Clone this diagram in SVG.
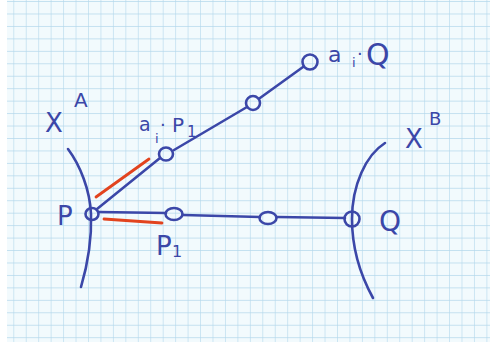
<svg xmlns="http://www.w3.org/2000/svg" width="490" height="346" viewBox="0 0 490 346">
<defs>
<pattern id="grid" patternUnits="userSpaceOnUse" x="0.85" y="1.05" width="12.45" height="12.45">
<path d="M0,0 V12.45 M0,0 H12.45" fill="none" stroke="#b3d8ec" stroke-width="1.2"/>
</pattern>
<style>
.ink{fill:none;stroke:#3b47a8;stroke-width:2.6;stroke-linecap:round;stroke-linejoin:round}
.red{fill:none;stroke:#e2431e;stroke-width:2.8;stroke-linecap:round}
.lbl{fill:#3b47a8;font-family:"DejaVu Sans","Liberation Sans",sans-serif}
</style>
</defs>
<rect x="0" y="0" width="490" height="346" fill="#ffffff"/>
<rect x="7" y="0" width="483" height="342" fill="#f2fafd"/>
<rect x="7" y="0" width="483" height="342" fill="url(#grid)"/>

<g id="connectors">
<path class="ink" d="M97,209 L160,158"/>
<path class="ink" d="M174,150 L247,107"/>
<path class="ink" d="M260,98 L303,67"/>
<path class="ink" d="M99,212 L166,213"/>
<path class="ink" d="M183,215 L260,217"/>
<path class="ink" d="M277,217 L345,218"/>
<path class="red" d="M96,197 L149,159"/>
<path class="red" d="M104,219 L162,223"/>
</g>

<g id="XA">
<path class="ink" d="M68,149 C80,165 90,190 91,214 C92,245 86,270 81,287"/>
<text class="lbl" x="45" y="132" font-size="26">X</text>
<text class="lbl" x="74" y="107" font-size="20">A</text>
</g>

<g id="XB">
<path class="ink" d="M385,143 C366,155 352,185 352,219 C352,250 362,278 373,298"/>
<text class="lbl" x="405" y="148" font-size="26">X</text>
<text class="lbl" x="429" y="125" font-size="18">B</text>
</g>

<g id="P">
<ellipse class="ink" cx="92" cy="214" rx="6.5" ry="6"/>
<text class="lbl" x="57" y="225" font-size="26">P</text>
</g>

<g id="P1">
<ellipse class="ink" cx="174" cy="214" rx="8.5" ry="6"/>
<text class="lbl" x="156" y="255" font-size="26">P</text>
<text class="lbl" x="172" y="257" font-size="16">1</text>
</g>

<g id="mid">
<ellipse class="ink" cx="268" cy="218" rx="8.5" ry="6"/>
</g>

<g id="Q">
<circle class="ink" cx="352" cy="219" r="7.5"/>
<text class="lbl" x="379" y="231" font-size="28">Q</text>
</g>

<g id="aiP1">
<ellipse class="ink" cx="166" cy="154" rx="7" ry="6.5"/>
<text class="lbl" x="139" y="131" font-size="19">a</text>
<text class="lbl" x="155" y="143" font-size="13">i</text>
<text class="lbl" x="160" y="131" font-size="18">·</text>
<text class="lbl" x="172" y="132" font-size="20">P</text>
<text class="lbl" x="187" y="137" font-size="15">1</text>
</g>

<g id="mid2">
<circle class="ink" cx="253" cy="103" r="7"/>
</g>

<g id="aiQ">
<circle class="ink" cx="310" cy="62" r="7.5"/>
<text class="lbl" x="328" y="62" font-size="22">a</text>
<text class="lbl" x="352" y="67" font-size="13">i</text>
<text class="lbl" x="357" y="60" font-size="18">·</text>
<text class="lbl" x="366" y="65" font-size="30">Q</text>
</g>
</svg>
